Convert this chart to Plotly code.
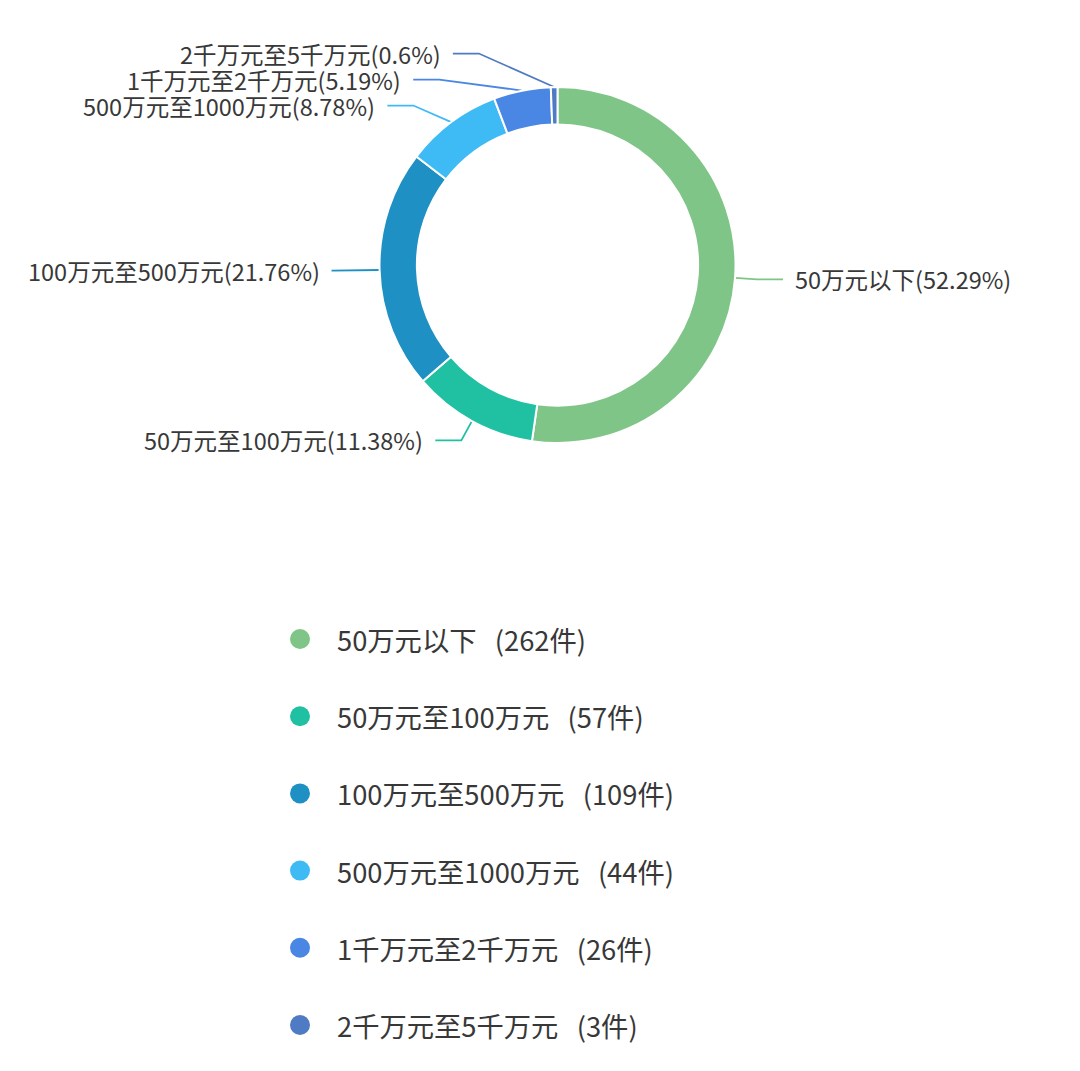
import math
import plotly.graph_objects as go

# data
categories = ["50万元以下", "50万元至100万元", "100万元至500万元",
              "500万元至1000万元", "1千万元至2千万元", "2千万元至5千万元"]
counts = [262, 57, 109, 44, 26, 3]
percents = ["52.29", "11.38", "21.76", "8.78", "5.19", "0.6"]
colors = ["#7FC587", "#20C1A3", "#1E90C4", "#3EBBF5", "#4A87E4", "#4F7AC4"]

# page is 1080x1071, the browser puts the figure 8px in from the corner
W, H = 1080, 1071
OFF = 8
CX, CY = 557.5, 265
R_OUT = 178
HOLE = 0.79
LEN1, LEN2, GAP = 22, 26, 10
LINE_H = 26
FONT = "Noto Sans CJK SC"
TEXT_COLOR = "#383838"

fig = go.Figure()

fw, fh = W - OFF, H - OFF
fig.add_trace(go.Pie(
    labels=categories, values=counts, sort=False, direction="clockwise",
    rotation=0, hole=HOLE, textinfo="none", hoverinfo="label+value",
    marker=dict(colors=colors, line=dict(color="white", width=2)),
    domain=dict(x=[(CX - R_OUT - OFF) / fw, (CX + R_OUT - OFF) / fw],
                y=[1 - (CY + R_OUT - OFF) / fh, 1 - (CY - R_OUT - OFF) / fh]),
    showlegend=False,
))

# label positions from slice mid angles (echarts style leader lines)
total = sum(counts)
items = []
acc = 0
for i, v in enumerate(counts):
    mid = (acc + v / 2) / total * 2 * math.pi
    acc += v
    s, c = math.sin(mid), -math.cos(mid)
    side = 1 if s >= 0 else -1
    ex, ey = CX + (R_OUT + LEN1) * s, CY + (R_OUT + LEN1) * c
    items.append(dict(i=i, side=side, sx=CX + R_OUT * s, sy=CY + R_OUT * c,
                      ex=ex, ey=ey, y0=ey, shifted=False))


def place(group):
    m = sum(d["y0"] for d in group) / len(group)
    top = m - LINE_H * (len(group) - 1) / 2
    for k, d in enumerate(group):
        d["ey"] = top + k * LINE_H
        d["shifted"] = len(group) > 1


for side in (1, -1):
    groups = [[d] for d in sorted([d for d in items if d["side"] == side], key=lambda d: d["y0"])]
    for g in groups:
        place(g)
    j = 0
    while j < len(groups) - 1:
        if groups[j + 1][0]["ey"] - groups[j][-1]["ey"] < LINE_H:
            groups[j] = groups[j] + groups.pop(j + 1)
            place(groups[j])
            j = max(j - 1, 0)
        else:
            j += 1

RX = R_OUT + LEN1
RY = RX * 1.15
for d in items:
    if d["shifted"]:
        t = (d["ey"] - CY) / RY
        d["ex"] = CX + d["side"] * RX * math.sqrt(max(0.0, 1 - t * t))

for d in items:
    i = d["i"]
    x_end = d["ex"] + d["side"] * LEN2
    fig.add_trace(go.Scatter(
        x=[d["sx"], d["ex"], x_end], y=[d["sy"], d["ey"], d["ey"]],
        mode="lines", line=dict(color=colors[i], width=1.8),
        hoverinfo="skip", showlegend=False,
    ))
    fig.add_annotation(
        x=x_end + d["side"] * GAP, y=d["ey"], xref="x", yref="y",
        text=f"{categories[i]}({percents[i]}%)", showarrow=False,
        xanchor="left" if d["side"] > 0 else "right", yanchor="middle",
        font=dict(size=23.5, color=TEXT_COLOR, family=FONT),
    )

# legend drawn below the ring
LEG_X, LEG_Y, LEG_STEP = 300, 639, 77.2
leg_y = [LEG_Y + k * LEG_STEP for k in range(len(categories))]
fig.add_trace(go.Scatter(
    x=[LEG_X] * len(categories), y=leg_y, mode="markers",
    marker=dict(size=20, color=colors, line=dict(width=0)),
    hoverinfo="skip", showlegend=False,
))
for k, name in enumerate(categories):
    fig.add_annotation(
        x=LEG_X + 35, y=leg_y[k], xref="x", yref="y",
        text=f"{name}   ({counts[k]}件)", showarrow=False,
        xanchor="left", yanchor="middle",
        font=dict(size=27.3, color=TEXT_COLOR, family=FONT),
    )

fig.update_xaxes(range=[OFF, W], visible=False, fixedrange=True)
fig.update_yaxes(range=[H, OFF], visible=False, fixedrange=True)
fig.update_layout(
    width=fw, height=fh, margin=dict(l=0, r=0, t=0, b=0),
    paper_bgcolor="white", plot_bgcolor="white",
    font=dict(family=FONT, color=TEXT_COLOR),
)

fig.write_html("out.html")
